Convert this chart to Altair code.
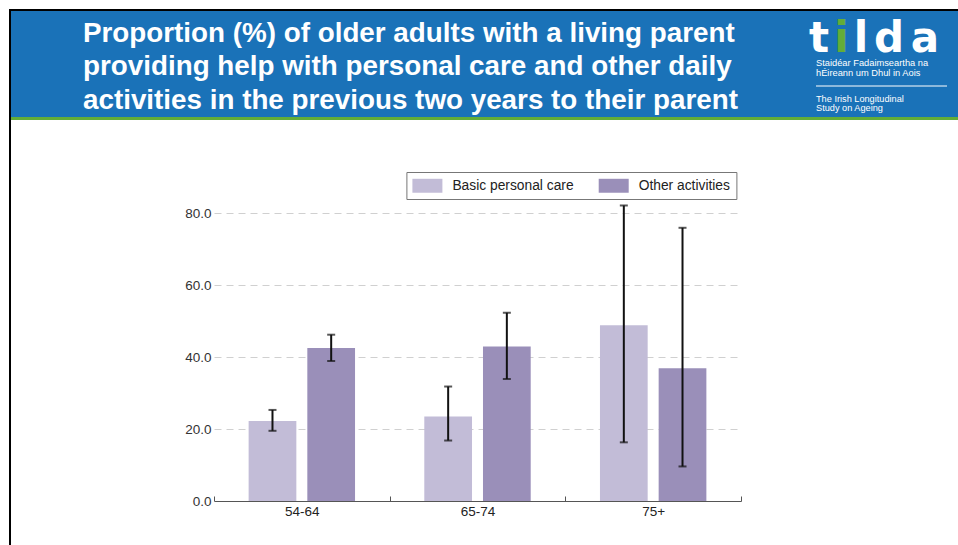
import altair as alt
import pandas as pd

# ---------------- data ----------------
age_groups = ["54-64", "65-74", "75+"]
series_names = ["Basic personal care", "Other activities"]
basic_care = [22.2, 23.5, 48.8]
basic_care_low = [19.5, 16.8, 16.3]
basic_care_high = [25.3, 31.8, 82.1]
other_activities = [42.5, 42.9, 36.9]
other_activities_low = [38.9, 33.9, 9.6]
other_activities_high = [46.2, 52.3, 75.9]
y_tick_values = [0, 20, 40, 60, 80]

title_lines = [
    "Proportion (%) of older adults with a living parent",
    "providing help with personal care and other daily",
    "activities in the previous two years to their parent",
]
logo_letters = ["t", "i", "l", "d", "a"]
logo_irish = ["Staidéar Fadaimseartha na", "hÉireann um Dhul in Aois"]
logo_english = ["The Irish Longitudinal", "Study on Ageing"]

rows = []
for i, g in enumerate(age_groups):
    rows.append({"age": g, "series": series_names[0], "value": basic_care[i],
                 "low": basic_care_low[i], "high": basic_care_high[i]})
    rows.append({"age": g, "series": series_names[1], "value": other_activities[i],
                 "low": other_activities_low[i], "high": other_activities_high[i]})
df = pd.DataFrame(rows)

# ---------------- styles ----------------
FONT = "Liberation Sans"
BLUE = "#1a72b8"
GREEN = "#63ad38"
BAR_COLORS = ["#c2bcd7", "#9a8fb9"]
ERR = "#111111"
one = pd.DataFrame({"k": [0]})


def block(w, h, fill, opacity=1.0):
    return alt.Chart(one).mark_rect(fill=fill, opacity=opacity, strokeWidth=0).encode(
        x=alt.value(0), x2=alt.value(w), y=alt.value(0), y2=alt.value(h)
    ).properties(width=w, height=h)


def txt(text, x, y, size, color="white", weight="normal", font=FONT,
        baseline="middle", align="left", **kw):
    return alt.Chart(one).mark_text(
        text=text, fontSize=size, color=color, fontWeight=weight, font=font,
        baseline=baseline, align=align, **kw
    ).encode(x=alt.value(x), y=alt.value(y))


# ---------------- header ----------------
HW, HH = 947, 106
header_layers = [
    block(HW, HH, BLUE),
    txt(title_lines, 72, 30.7, 27.8, weight="bold", lineHeight=33.5, baseline="alphabetic"),
]
logo_x = [808, 830.5, 850, 878, 914]
for letter, lx in zip(logo_letters, logo_x):
    header_layers.append(
        txt(letter, lx, 40.7, 42, color=(GREEN if letter == "i" else "white"),
            weight="bold", font="DejaVu Sans", baseline="alphabetic", align="center")
    )
header_layers.append(txt(logo_irish[0], 805, 51.5, 9.3))
header_layers.append(txt(logo_irish[1], 805, 62, 9.3))
header_layers.append(
    alt.Chart(one).mark_rule(color="white", strokeWidth=1).encode(
        x=alt.value(805), x2=alt.value(936), y=alt.value(75)
    )
)
header_layers.append(txt(logo_english[0], 805, 87.5, 9.2))
header_layers.append(txt(logo_english[1], 805, 96.8, 9.2))
header = alt.layer(*header_layers).properties(width=HW, height=HH)

# ---------------- bar chart ----------------
PW, PH = 527, 329
legend_path = "M-2,-0.93L2,-0.93L2,0.93L-2,0.93Z"

x_enc = alt.X(
    "age:N", sort=age_groups,
    scale=alt.Scale(domain=age_groups, paddingInner=0, paddingOuter=0),
    axis=alt.Axis(
        title=None, labelAngle=0, labelFont=FONT, labelFontSize=13.5, labelColor="#222",
        labelPadding=3, ticks=False, tickSize=0, tickBand="extent",
        domainColor="#555", domainWidth=1,
        grid=True, gridColor="#555", gridWidth=1, gridDash=[0, PH - 5, 5, 3000],
    ),
)
xoff_enc = alt.XOffset(
    "series:N", sort=series_names,
    scale=alt.Scale(domain=series_names, paddingInner=0.187, paddingOuter=0.59),
)
y_scale = alt.Scale(domain=[0, 91.4], nice=False, zero=True)

bars = alt.Chart(df).mark_bar().encode(
    x=x_enc,
    xOffset=xoff_enc,
    y=alt.Y(
        "value:Q", scale=y_scale,
        axis=alt.Axis(
            title=None, values=y_tick_values, format=".1f", domain=False, ticks=False,
            labelPadding=3, labelFont=FONT, labelFontSize=13.5, labelColor="#333",
            grid=True, gridColor="#d0d0d0", gridDash=[7, 5], gridWidth=1,
        ),
    ),
    color=alt.Color(
        "series:N", sort=series_names,
        scale=alt.Scale(domain=series_names, range=BAR_COLORS),
        legend=alt.Legend(
            title=None, orient="none", legendX=192.4, legendY=0,
            direction="horizontal", columns=2,
            symbolType=legend_path, symbolSize=225, symbolOffset=7.5,
            symbolStrokeWidth=0, symbolOpacity=1,
            labelOffset=17.5, labelFont=FONT, labelFontSize=13.8, labelColor="#222",
            padding=6, columnPadding=24.3, rowPadding=0,
            strokeColor="#777", fillColor="white",
        ),
    ),
)

err_rule = alt.Chart(df).mark_rule(color=ERR, strokeWidth=2).encode(
    x=alt.X("age:N", sort=age_groups), xOffset=alt.XOffset("series:N", sort=series_names),
    y=alt.Y("low:Q"), y2="high:Q",
)
cap_hi = alt.Chart(df).mark_tick(color=ERR, orient="horizontal", size=8, thickness=2).encode(
    x=alt.X("age:N", sort=age_groups), xOffset=alt.XOffset("series:N", sort=series_names),
    y=alt.Y("high:Q"),
)
cap_lo = alt.Chart(df).mark_tick(color=ERR, orient="horizontal", size=8, thickness=2).encode(
    x=alt.X("age:N", sort=age_groups), xOffset=alt.XOffset("series:N", sort=series_names),
    y=alt.Y("low:Q"),
)

bar_chart = alt.layer(bars, err_rule, cap_hi, cap_lo).properties(width=PW, height=PH)

main_row = alt.hconcat(block(173, 10, "white", opacity=0), bar_chart, spacing=0
                       ).resolve_legend(color="independent")

column = alt.vconcat(
    block(HW, 2, "black"),
    header,
    block(HW, 3, GREEN),
    block(HW, 50.5, "white", opacity=0),
    main_row,
    spacing=0,
).resolve_legend(color="independent")

chart = alt.hconcat(block(2, 536, "black"), column, spacing=0).properties(
    padding={"left": 9, "top": 9, "right": 0, "bottom": 0},
    background="white",
).resolve_legend(color="independent").configure(
    font=FONT, view=alt.ViewConfig(strokeWidth=0)
)

chart.save("out.html", embed_options={"renderer": "svg", "actions": False})
